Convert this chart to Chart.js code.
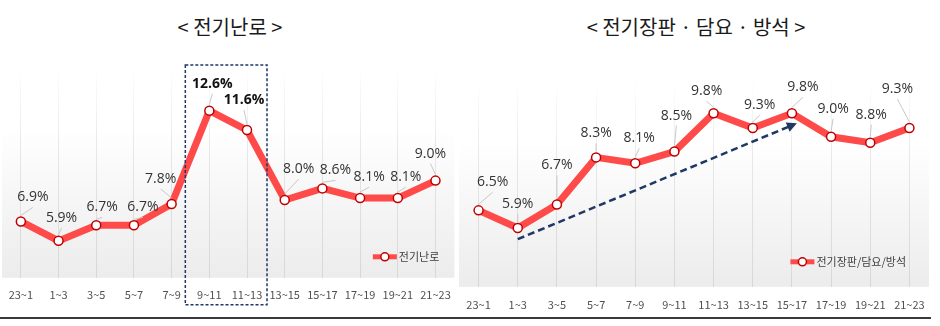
<!DOCTYPE html>
<html>
<head>
<meta charset="utf-8">
<script src="https://cdn.jsdelivr.net/npm/chart.js@4"></script>
<style>
  body { margin: 0; background: #fff; width: 940px; height: 326px; position: relative; overflow: hidden; font-family: "Noto Sans CJK KR", "Noto Sans", sans-serif; }
  canvas { position: absolute; top: 0; }
  #heater { left: -4px; }
  #pad { left: 453px; }
  .title { position: absolute; top: 13px; font-size: 20px; color: #1a1a1a; white-space: nowrap; transform: translateX(-50%); line-height: 28px; }
  .rule { position: absolute; left: 0; top: 317px; width: 931px; height: 2px; background: #3a3a3a; }
</style>
</head>
<body>
<div class="title" style="left:230px">&lt; 전기난로 &gt;</div>
<div class="title" style="left:696px">&lt; 전기장판 · 담요 · 방석 &gt;</div>
<canvas id="heater" width="465" height="326"></canvas>
<canvas id="pad" width="488" height="326"></canvas>
<div class="rule"></div>
<script>
// --- DATA ---
const hours = ['23~1', '1~3', '3~5', '5~7', '7~9', '9~11', '11~13', '13~15', '15~17', '17~19', '19~21', '21~23'];
const heaterValues = [6.9, 5.9, 6.7, 6.7, 7.8, 12.6, 11.6, 8.0, 8.6, 8.1, 8.1, 9.0];
const padValues = [6.5, 5.9, 6.7, 8.3, 8.1, 8.5, 9.8, 9.3, 9.8, 9.0, 8.8, 9.3];
const heaterName = '전기난로';
const padName = '전기장판/담요/방석';
const heaterPeak = ['9~11', '11~13'];           // boxed + bold labels
const padTrend = [['1~3', 5.52], ['15~17', 9.46]]; // dashed trend arrow (category, value)

// label nudges (dx, dy from the point) so they sit like the original
const heaterLabelPos = [[12,-24],[3,-23],[6,-18],[9,-18],[-11,-25],[3,-27],[-3,-30],[14,-31],[13,-18],[9,-21],[8,-21],[-5,-27]];
const padLabelPos = [[14,-28],[0,-24],[0,-39],[0,-24],[4,-25],[2,-36],[-7,-22],[7,-23],[11,-26],[2,-28],[1,-28],[-12,-39]];

const RED = '#ff4a4a';
const DARK_RED = '#c00000';
const NAVY = '#1f3864';
const LABEL_FONT = '"Open Sans", "Noto Sans", sans-serif';

// --- PLUGINS ---
const plotBackground = {
    id: 'plotBackground',
    beforeDraw(chart) {
        const { ctx, chartArea: a } = chart;
        const g = ctx.createLinearGradient(0, a.top, 0, a.bottom);
        g.addColorStop(0, '#ffffff');
        g.addColorStop(0.3, '#ffffff');
        g.addColorStop(1, '#ececec');
        ctx.save();
        ctx.fillStyle = g;
        ctx.fillRect(a.left, a.top, a.right - a.left, a.bottom - a.top);
        ctx.restore();
    }
};

// grid lines fade out towards the top like the original
function fadingGrid(context) {
    const chart = context.chart;
    const a = chart.chartArea;
    if (!a) return '#e0e0e0';
    const g = chart.ctx.createLinearGradient(0, a.top, 0, a.bottom);
    g.addColorStop(0, 'rgba(220,220,220,0)');
    g.addColorStop(0.35, 'rgba(220,220,220,0.6)');
    g.addColorStop(1, 'rgba(215,215,215,1)');
    return g;
}

const pointLabels = {
    id: 'pointLabels',
    afterDatasetsDraw(chart, args, opts) {
        const { ctx } = chart;
        const meta = chart.getDatasetMeta(0);
        const values = chart.data.datasets[0].data;
        ctx.save();
        meta.data.forEach((pt, i) => {
            const [dx, dy] = opts.pos[i];
            const lx = pt.x + dx, ly = pt.y + dy;
            const bold = opts.bold.includes(chart.data.labels[i]);
            // leader line
            const sx = lx, sy = ly + 10;
            const ex = pt.x, ey = pt.y - 6;
            if (Math.hypot(ex - sx, ey - sy) > 5) {
                ctx.strokeStyle = '#c8c8c8';
                ctx.lineWidth = 1;
                ctx.beginPath();
                ctx.moveTo(sx, sy);
                ctx.lineTo(ex, ey);
                ctx.stroke();
            }
            ctx.font = (bold ? 'bold ' : '') + '14px ' + LABEL_FONT;
            ctx.fillStyle = bold ? '#111' : '#333';
            ctx.textAlign = 'center';
            ctx.textBaseline = 'middle';
            ctx.fillText(values[i].toFixed(1) + '%', lx, ly);
        });
        ctx.restore();
    }
};

const insideLegend = {
    id: 'insideLegend',
    afterDraw(chart, args, opts) {
        const { ctx, chartArea: a } = chart;
        ctx.save();
        ctx.font = '11px "Noto Sans CJK KR", sans-serif';
        const tw = ctx.measureText(opts.text).width;
        const tx = a.right - opts.right - tw;
        const y = a.bottom - opts.bottom;
        ctx.strokeStyle = RED;
        ctx.lineWidth = 5;
        ctx.beginPath();
        ctx.moveTo(tx - 26, y);
        ctx.lineTo(tx - 2, y);
        ctx.stroke();
        ctx.beginPath();
        ctx.arc(tx - 14, y, 4, 0, Math.PI * 2);
        ctx.fillStyle = '#fff';
        ctx.fill();
        ctx.lineWidth = 1.5;
        ctx.strokeStyle = DARK_RED;
        ctx.stroke();
        ctx.fillStyle = '#404040';
        ctx.textBaseline = 'middle';
        ctx.fillText(opts.text, tx, y);
        ctx.restore();
    }
};

const peakBox = {
    id: 'peakBox',
    afterDraw(chart, args, opts) {
        if (!opts.cats) return;
        const { ctx, chartArea: a, scales: { x } } = chart;
        const x0 = x.getPixelForValue(hours.indexOf(opts.cats[0])) - 24;
        const x1 = x.getPixelForValue(hours.indexOf(opts.cats[1])) + 20;
        ctx.save();
        ctx.strokeStyle = NAVY;
        ctx.lineWidth = 1.5;
        ctx.setLineDash([3, 2]);
        ctx.strokeRect(x0, a.top + 1, x1 - x0, a.bottom + 26 - a.top);
        ctx.restore();
    }
};

const trendArrow = {
    id: 'trendArrow',
    afterDraw(chart, args, opts) {
        if (!opts.path) return;
        const { ctx, scales: { x, y } } = chart;
        const [[c0, v0], [c1, v1]] = opts.path;
        const sx = x.getPixelForValue(hours.indexOf(c0)), sy = y.getPixelForValue(v0);
        const ex = x.getPixelForValue(hours.indexOf(c1)) + 5, ey = y.getPixelForValue(v1);
        const ang = Math.atan2(ey - sy, ex - sx);
        ctx.save();
        ctx.strokeStyle = NAVY;
        ctx.fillStyle = NAVY;
        ctx.lineWidth = 2.5;
        ctx.setLineDash([7, 4]);
        ctx.beginPath();
        ctx.moveTo(sx, sy);
        ctx.lineTo(ex - 8 * Math.cos(ang), ey - 8 * Math.sin(ang));
        ctx.stroke();
        ctx.setLineDash([]);
        ctx.beginPath();
        ctx.moveTo(ex, ey);
        ctx.lineTo(ex - 10 * Math.cos(ang) + 5 * Math.sin(ang), ey - 10 * Math.sin(ang) - 5 * Math.cos(ang));
        ctx.lineTo(ex - 10 * Math.cos(ang) - 5 * Math.sin(ang), ey - 10 * Math.sin(ang) + 5 * Math.cos(ang));
        ctx.closePath();
        ctx.fill();
        ctx.restore();
    }
};

// --- CHART BUILDER ---
function makeChart(id, name, values, cfg) {
    return new Chart(document.getElementById(id), {
        type: 'line',
        data: {
            labels: hours,
            datasets: [{
                label: name,
                data: values,
                borderColor: RED,
                borderWidth: 7,
                pointRadius: 4.5,
                pointBorderWidth: 1.5,
                pointBackgroundColor: '#fff',
                pointBorderColor: DARK_RED,
                tension: 0
            }]
        },
        options: {
            responsive: false,
            animation: false,
            devicePixelRatio: 1,
            layout: { padding: cfg.padding },
            scales: {
                x: {
                    offset: true,
                    grid: { offset: false, color: fadingGrid, drawTicks: false },
                    border: { display: false },
                    ticks: { color: '#505050', padding: cfg.tickPad, font: { size: 11, family: '"Noto Sans CJK KR", sans-serif' } }
                },
                y: { display: false, min: cfg.min, max: cfg.max }
            },
            plugins: {
                legend: { display: false },
                tooltip: { enabled: false },
                pointLabels: { pos: cfg.labelPos, bold: cfg.bold || [] },
                insideLegend: { text: name, right: cfg.legendRight, bottom: cfg.legendBottom },
                peakBox: { cats: cfg.box },
                trendArrow: { path: cfg.arrow }
            }
        },
        plugins: [plotBackground, pointLabels, insideLegend, peakBox, trendArrow]
    });
}

makeChart('heater', heaterName, heaterValues, {
    padding: { top: 64, bottom: 15, left: 0, right: 5 },
    tickPad: 10, min: 4, max: 15,
    labelPos: heaterLabelPos, bold: heaterPeak, box: heaterPeak,
    legendRight: 15, legendBottom: 21
});

makeChart('pad', padName, padValues, {
    padding: { top: 78, bottom: 4, left: 0, right: 12 },
    tickPad: 11, min: 3.9, max: 11,
    labelPos: padLabelPos, arrow: padTrend,
    legendRight: 23, legendBottom: 25
});
</script>
</body>
</html>
